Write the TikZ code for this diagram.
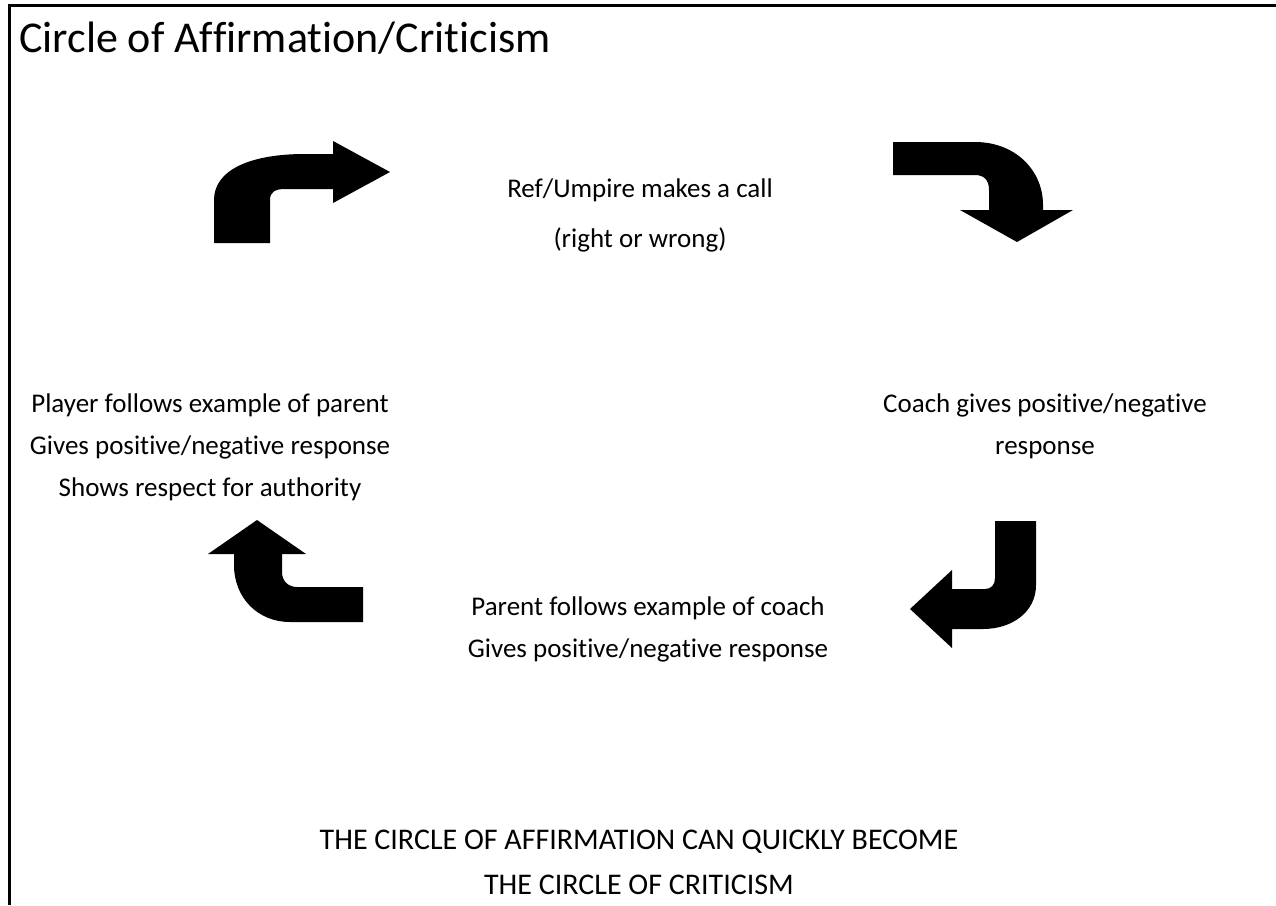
\documentclass[tikz,border=0pt]{standalone}
\usepackage{fontspec}
\setmainfont{Carlito}[Ligatures=CommonOff]
\usepackage{tikz}
\definecolor{ink}{RGB}{0,0,0}

\begin{document}
\begin{tikzpicture}[x=1pt,y=-1pt,
  txt/.style={align=center,inner sep=0pt,font=\fontsize{27}{42}\selectfont}]
\useasboundingbox (0,0) rectangle (1276,905);
\draw[ink,line width=3pt] (9,905)--(9,5)--(1276,5);
\node[anchor=west,inner sep=0pt,font=\fontsize{44}{46}\selectfont] (title) at (19,38) {Circle of Affirmation/Criticism};
% the four steps
\node[txt,font=\fontsize{27}{50}\selectfont] (ref) at (640,215) {Ref/Umpire makes a call\\(right or wrong)};
\node[txt] (coach) at (1045,426) {Coach gives positive/negative\\response};
\node[txt] (parent) at (648,629) {Parent follows example of coach\\Gives positive/negative response};
\node[txt] (player) at (210,447) {Player follows example of parent\\Gives positive/negative response\\Shows respect for authority};
\node[txt,font=\fontsize{30}{45}\selectfont] (note) at (639,862) {THE CIRCLE OF AFFIRMATION CAN QUICKLY BECOME\\THE CIRCLE OF CRITICISM};
% bent arrows
\fill[ink] (214,243)--(214,200) .. controls (214,170) and (250,154) .. (305,154)--(333,154)--(333,141)--(390,172)--(333,203)--(333,189)--(285,189) .. controls (275,189) and (270,192) .. (270,200)--(270,243)--cycle;
\fill[ink] (893,142)--(975,142) .. controls (1015,142) and (1043,170) .. (1043,205)--(1043,210)--(1073,210)--(1017,242)--(960,210)--(989,210)--(989,190) .. controls (989,180) and (984,175) .. (975,175)--(893,175)--cycle;
\fill[ink] (995,521)--(1036,521)--(1036,585) .. controls (1036,612) and (1012,629) .. (983,629)--(952,629)--(952,648)--(910,609)--(952,570)--(952,589)--(985,589) .. controls (991,589) and (995,585) .. (995,578)--cycle;
\fill[ink] (363,587)--(363,622)--(290,622) .. controls (258,622) and (234,598) .. (234,565)--(234,554)--(208,554)--(257,520)--(306,554)--(282,554)--(282,572) .. controls (282,581) and (288,587) .. (297,587)--cycle;
\end{tikzpicture}
\end{document}
